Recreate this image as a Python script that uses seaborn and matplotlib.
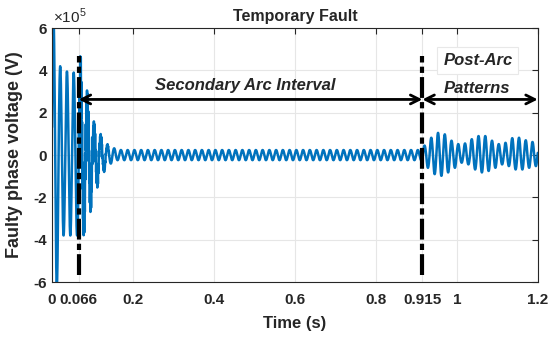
import numpy as np
import pandas as pd
import matplotlib
matplotlib.use("Agg")
import matplotlib.pyplot as plt
import seaborn as sns

# ---------------------- data (voltage in x1e5 V) ----------------------
# 60 Hz carrier, peak magnitude of every half-cycle
f0 = 60
phase0 = 0.2
pre_fault_peaks = [6.6, 6.2, 4.2, 3.8, 3.95, 3.8, 3.9, 3.8]
arc_transient_peaks = [3.6, 2.9, 2.2, 2.0, 1.1, 1.2, 0.8, 0.7, 0.47, 0.4, 0.32]
arc_hf_peaks = [1.2, 1.0, 0.9, 0.7, 0.5, 0.35, 0.2, 0.1, 0.05, 0.0, 0.0]
f_hf = 650
arc_steady_peak = 0.24
n_steady = 91
post_arc_tops = [0.45, 0.82, 1.05, 0.98, 0.68, 0.52, 0.55, 0.75, 0.9,
                 0.9, 0.68, 0.52, 0.58, 0.8, 0.82, 0.7, 0.62]
post_arc_bottoms = [0.6, 0.9, 0.98, 0.82, 0.6, 0.36, 0.44, 0.68, 0.82,
                    0.75, 0.6, 0.44, 0.52, 0.68, 0.68, 0.6, 0.52]

t_fault = 0.066
t_reclose = 0.915
x_ticks = [0, 0.066, 0.2, 0.4, 0.6, 0.8, 0.915, 1, 1.2]
x_ticklabels = ["0", "0.066", "0.2", "0.4", "0.6", "0.8", "0.915", "1", "1.2"]
y_ticks = [-6, -4, -2, 0, 2, 4, 6]

# ---------------------- build waveform ----------------------
post_arc = [v for pair in zip(post_arc_tops, post_arc_bottoms) for v in pair]
peaks = np.array(pre_fault_peaks + arc_transient_peaks
                 + [arc_steady_peak] * n_steady + post_arc)
hf = np.zeros(len(peaks))
hf[len(pre_fault_peaks):len(pre_fault_peaks) + len(arc_hf_peaks)] = arc_hf_peaks

t = np.linspace(0, 1.2, 7201)
theta = 2 * np.pi * f0 * t + phase0
k = np.minimum((theta // np.pi).astype(int), len(peaks) - 1)
v = peaks[k] * np.sin(theta) + hf[k] * np.sin(2 * np.pi * f_hf * t)
df = pd.DataFrame({"time": t, "voltage": v})

# ---------------------- plot ----------------------
sns.set_style("white")
plt.rcParams['font.family'] = ['Liberation Sans', 'DejaVu Sans']
plt.rcParams['mathtext.fontset'] = 'custom'
plt.rcParams['mathtext.rm'] = 'Liberation Sans'

fig = plt.figure(figsize=(5.59, 3.39), dpi=100)
ax = fig.add_axes([0.093, 0.168, 0.869, 0.749])

sns.lineplot(data=df, x="time", y="voltage", color="#0072BD", lw=1.8, ax=ax)

for xv in (t_fault, t_reclose):
    ax.plot([xv, xv], [-5.66, 4.7], color="black", lw=3,
            linestyle=(0, (5, 1, 1.5, 1)))

arrow_y = 2.63
ax.annotate("", xy=(t_reclose, arrow_y), xytext=(t_fault, arrow_y),
            arrowprops=dict(arrowstyle="<->", lw=2, color="black",
                            mutation_scale=16, shrinkA=0, shrinkB=0))
ax.annotate("", xy=(1.2, arrow_y), xytext=(t_reclose, arrow_y),
            arrowprops=dict(arrowstyle="<->", lw=2, color="black",
                            mutation_scale=16, shrinkA=0, shrinkB=0))

ax.text(0.477, 3.3, "Secondary Arc Interval", fontsize=12, fontweight="bold",
        fontstyle="italic", ha="center", va="center")
ax.text(1.052, 4.48, "Post-Arc", fontsize=12, fontweight="bold",
        fontstyle="italic", ha="center", va="center",
        bbox=dict(facecolor="white", edgecolor="#e8e8e8", lw=0.8,
                  boxstyle="square,pad=0.35"))
ax.text(1.05, 3.16, "Patterns", fontsize=12, fontweight="bold",
        fontstyle="italic", ha="center", va="center")

ax.set_xlim(0, 1.2)
ax.set_ylim(-6, 6)
ax.set_xticks(x_ticks)
ax.set_xticklabels(x_ticklabels)
ax.set_yticks(y_ticks)
ax.set_yticklabels([str(y) for y in y_ticks])
for lab in ax.get_xticklabels() + ax.get_yticklabels():
    lab.set_fontweight("bold")
ax.tick_params(axis="x", direction="in", top=True, length=4, labelsize=11,
               pad=8, color="#262626")
ax.tick_params(axis="y", direction="in", right=True, length=4, labelsize=11,
               pad=3.5, color="#262626")
ax.grid(True, color="#e6e6e6", lw=0.8)
ax.set_axisbelow(True)
for s in ax.spines.values():
    s.set_color("#262626")
    s.set_linewidth(0.8)

ax.set_xlabel("Time (s)", fontsize=12, fontweight="bold")
ax.set_ylabel("Faulty phase voltage (V)", fontsize=13, fontweight="bold")
ax.xaxis.set_label_coords(0.5, -0.135)
ax.yaxis.set_label_coords(-0.06, 0.5)
ax.set_title("Temporary Fault", fontsize=11.5, fontweight="bold", pad=5)
fig.text(0.095, 0.952, r"$\times10^5$", fontsize=11, ha="left", va="center")

fig.savefig("out.png", dpi=100)
